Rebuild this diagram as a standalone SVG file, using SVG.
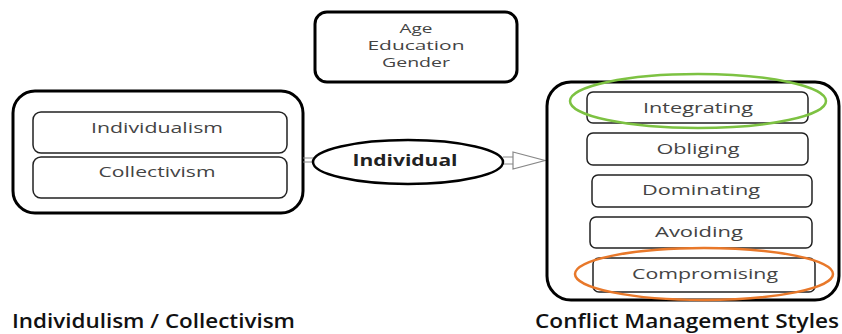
<svg xmlns="http://www.w3.org/2000/svg" width="842" height="334" viewBox="0 0 842 334">
<style>
.outer{fill:#fff;stroke:#000;stroke-width:3}
.inner{fill:#fff;stroke:#222;stroke-width:1.5}
.t{font-family:"Open Sans","Noto Sans",sans-serif;font-size:15px;fill:#444;text-anchor:middle}
.ts{font-family:"Open Sans","Noto Sans",sans-serif;font-size:13px;fill:#444;text-anchor:middle}
.lbl{font-family:"Open Sans","Noto Sans",sans-serif;font-size:19px;font-weight:600;fill:#111}
</style>
<rect width="842" height="334" fill="#fff"/>
<g id="demographics">
<rect x="315" y="12" width="202" height="70" rx="12" class="outer" stroke-width="2.5"/>
<text class="ts" x="416" y="33" textLength="33" lengthAdjust="spacingAndGlyphs">Age</text>
<text class="ts" x="416" y="50" textLength="97" lengthAdjust="spacingAndGlyphs">Education</text>
<text class="ts" x="416" y="67" textLength="68" lengthAdjust="spacingAndGlyphs">Gender</text>
</g>
<g id="indcol">
<rect x="13" y="91" width="290" height="122" rx="22" class="outer"/>
<rect x="33" y="112" width="254" height="41" rx="8" class="inner"/>
<text class="t" x="157" y="133" textLength="132" lengthAdjust="spacingAndGlyphs">Individualism</text>
<rect x="33" y="157" width="254" height="41" rx="8" class="inner"/>
<text class="t" x="157" y="177" textLength="117" lengthAdjust="spacingAndGlyphs">Collectivism</text>
</g>
<g id="connectors">
<line x1="303" y1="158" x2="314" y2="158" stroke="#888" stroke-width="1"/>
<line x1="303" y1="162" x2="314" y2="162" stroke="#888" stroke-width="1"/>
<line x1="503" y1="157" x2="513" y2="157" stroke="#888" stroke-width="1"/>
<line x1="503" y1="164" x2="513" y2="164" stroke="#888" stroke-width="1"/>
<polygon points="513,152 545,160.5 513,169" fill="#fff" stroke="#888" stroke-width="1.2"/>
</g>
<g id="individual">
<ellipse cx="408" cy="162" rx="95" ry="22" fill="#fff" stroke="#000" stroke-width="2.5"/>
<text x="405" y="166" font-family="Open Sans, Noto Sans, sans-serif" font-size="16" font-weight="700" fill="#222" text-anchor="middle" textLength="105" lengthAdjust="spacingAndGlyphs">Individual</text>
</g>
<g id="styles">
<rect x="547" y="82" width="292" height="218" rx="24" class="outer"/>
<rect x="587" y="92" width="221" height="31" rx="6" class="inner"/>
<text class="t" x="698" y="113" textLength="110" lengthAdjust="spacingAndGlyphs">Integrating</text>
<rect x="587" y="133" width="221" height="32" rx="6" class="inner"/>
<text class="t" x="698" y="154" textLength="83" lengthAdjust="spacingAndGlyphs">Obliging</text>
<rect x="592" y="175" width="220" height="32" rx="6" class="inner"/>
<text class="t" x="701" y="195" textLength="118" lengthAdjust="spacingAndGlyphs">Dominating</text>
<rect x="590" y="217" width="222" height="31" rx="6" class="inner"/>
<text class="t" x="699" y="237" textLength="88" lengthAdjust="spacingAndGlyphs">Avoiding</text>
<rect x="593" y="258" width="222" height="34" rx="6" class="inner"/>
<text class="t" x="705" y="279" textLength="146" lengthAdjust="spacingAndGlyphs">Compromising</text>
</g>
<g id="highlights">
<ellipse cx="698" cy="101" rx="128" ry="27" fill="none" stroke="#7dc242" stroke-width="2.5"/>
<ellipse cx="704" cy="274" rx="129" ry="26" fill="none" stroke="#e8782a" stroke-width="2.5"/>
</g>
<g id="labels">
<text class="lbl" x="12" y="328" textLength="283" lengthAdjust="spacingAndGlyphs">Individulism / Collectivism</text>
<text class="lbl" x="535" y="328" textLength="304" lengthAdjust="spacingAndGlyphs">Conflict Management Styles</text>
</g>
</svg>
